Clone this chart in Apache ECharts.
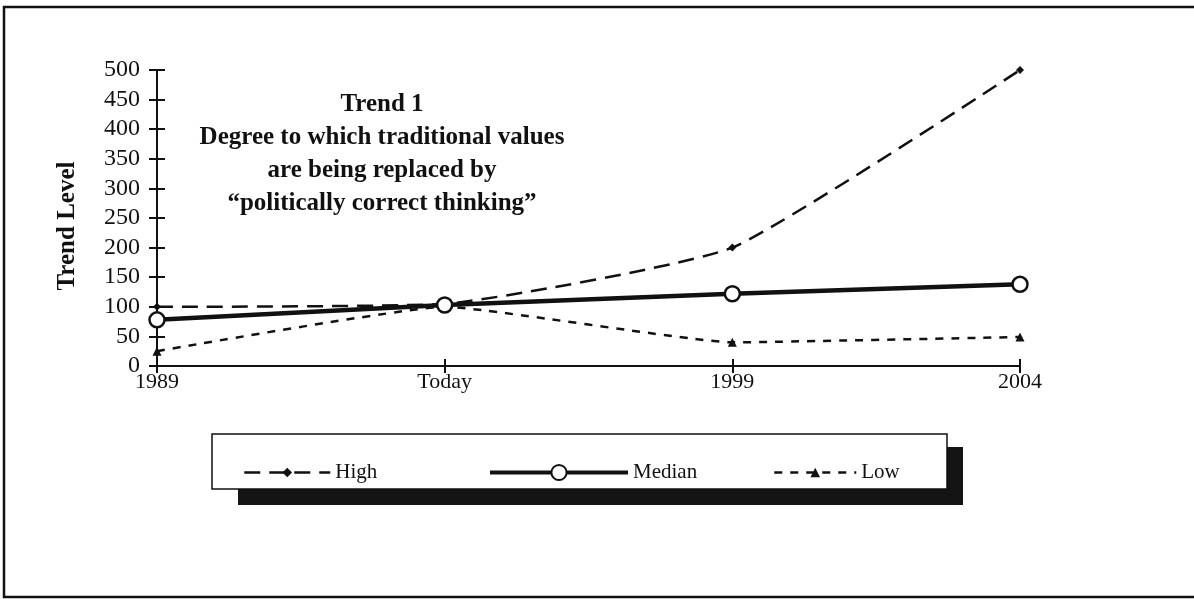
<!DOCTYPE html>
<html>
<head>
<meta charset="utf-8">
<script src="https://cdn.jsdelivr.net/npm/echarts@6/dist/echarts.min.js"></script>
<style>
  html, body { margin: 0; padding: 0; background: #fff; }
  #chart { width: 1194px; height: 599px; }
</style>
</head>
<body>
<div id="chart"></div>
<script>
var categories = ['1989', 'Today', '1999', '2004'];
var highValues = [100, 105, 200, 500];
var medianValues = [78, 103, 122, 138];
var lowValues = [25, 100, 40, 49];
var seriesNames = ['High', 'Median', 'Low'];
var titleLines = ['Trend 1', 'Degree to which traditional values', 'are being replaced by', '\u201cpolitically correct thinking\u201d'];

var myChart = echarts.init(document.getElementById('chart'));
var serif = '"Liberation Serif", "DejaVu Serif", serif';
var legendText = { fontFamily: serif, fontSize: 21, color: '#111' };

var option = {
    backgroundColor: '#fff',
    animation: false,
    title: {
        text: titleLines.join('\n'),
        left: 377,
        top: 83,
        textAlign: 'center',
        textStyle: {
            fontFamily: serif,
            fontWeight: 'bold',
            fontSize: 25,
            lineHeight: 33,
            color: '#111'
        }
    },
    graphic: [
        {
            type: 'rect',
            shape: { x: 4, y: 7, width: 1200, height: 590 },
            style: { fill: null, stroke: '#111', lineWidth: 2.5 },
            silent: true
        },
        {
            type: 'rect',
            shape: { x: 238, y: 447, width: 725, height: 58 },
            style: { fill: '#141414' },
            silent: true
        },
        {
            type: 'rect',
            shape: { x: 212, y: 434, width: 735, height: 55 },
            style: { fill: '#fff', stroke: '#111', lineWidth: 1.5 },
            silent: true
        }
    ],
    legend: [
        {
            data: [seriesNames[0]],
            left: 238,
            top: 457,
            itemWidth: 86,
            itemHeight: 12,
            lineStyle: { width: 2.5 },
            textStyle: legendText
        },
        {
            data: [seriesNames[1]],
            left: 483,
            top: 457,
            itemWidth: 138,
            itemHeight: 19,
            lineStyle: { width: 4 },
            textStyle: legendText
        },
        {
            data: [seriesNames[2]],
            left: 768,
            top: 457,
            itemWidth: 82,
            itemHeight: 12,
            lineStyle: { width: 2.5 },
            textStyle: legendText
        }
    ],
    grid: { left: 157, right: 174, top: 70, bottom: 233, containLabel: false },
    xAxis: [
        {
            type: 'category',
            data: categories,
            boundaryGap: false,
            axisLine: { lineStyle: { color: '#111', width: 2 } },
            axisTick: { show: true, length: 7, alignWithLabel: true, lineStyle: { color: '#111', width: 2 } },
            axisLabel: { fontFamily: serif, fontSize: 22, color: '#111', margin: 5 },
            splitLine: { show: false }
        },
        {
            type: 'category',
            data: categories,
            boundaryGap: false,
            position: 'bottom',
            axisLine: { show: false },
            axisTick: { show: true, inside: true, length: 7, lineStyle: { color: '#111', width: 2 } },
            axisLabel: { show: false },
            splitLine: { show: false }
        }
    ],
    yAxis: [
        {
            type: 'value',
            min: 0,
            max: 500,
            interval: 50,
            name: 'Trend Level',
            nameLocation: 'middle',
            nameGap: 77,
            nameTextStyle: { fontFamily: serif, fontWeight: 'bold', fontSize: 25, color: '#111', padding: [0, 16, 0, 0] },
            axisLine: { show: true, lineStyle: { color: '#111', width: 2 } },
            axisTick: { show: true, length: 8, lineStyle: { color: '#111', width: 2 } },
            axisLabel: { fontFamily: serif, fontSize: 24, color: '#111', margin: 17 },
            splitLine: { show: false }
        },
        {
            type: 'value',
            min: 0,
            max: 500,
            interval: 50,
            position: 'left',
            axisLine: { show: false },
            axisTick: { show: true, inside: true, length: 8, lineStyle: { color: '#111', width: 2 } },
            axisLabel: { show: false },
            splitLine: { show: false }
        }
    ],
    series: [
        {
            name: 'High',
            type: 'line',
            data: highValues,
            smooth: 0.15,
            symbol: 'diamond',
            symbolSize: 8,
            itemStyle: { color: '#111' },
            lineStyle: { color: '#111', width: 2.5, type: [16, 9] },
            z: 3
        },
        {
            name: 'Median',
            type: 'line',
            data: medianValues,
            symbol: 'circle',
            symbolSize: 15,
            itemStyle: { color: '#fff', borderColor: '#111', borderWidth: 2.5 },
            lineStyle: { color: '#111', width: 4.5 },
            z: 4
        },
        {
            name: 'Low',
            type: 'line',
            data: lowValues,
            smooth: 0.12,
            symbol: 'triangle',
            symbolSize: 9,
            itemStyle: { color: '#111' },
            lineStyle: { color: '#111', width: 2.5, type: [8, 8] },
            z: 3
        }
    ]
};

myChart.setOption(option);
</script>
</body>
</html>
